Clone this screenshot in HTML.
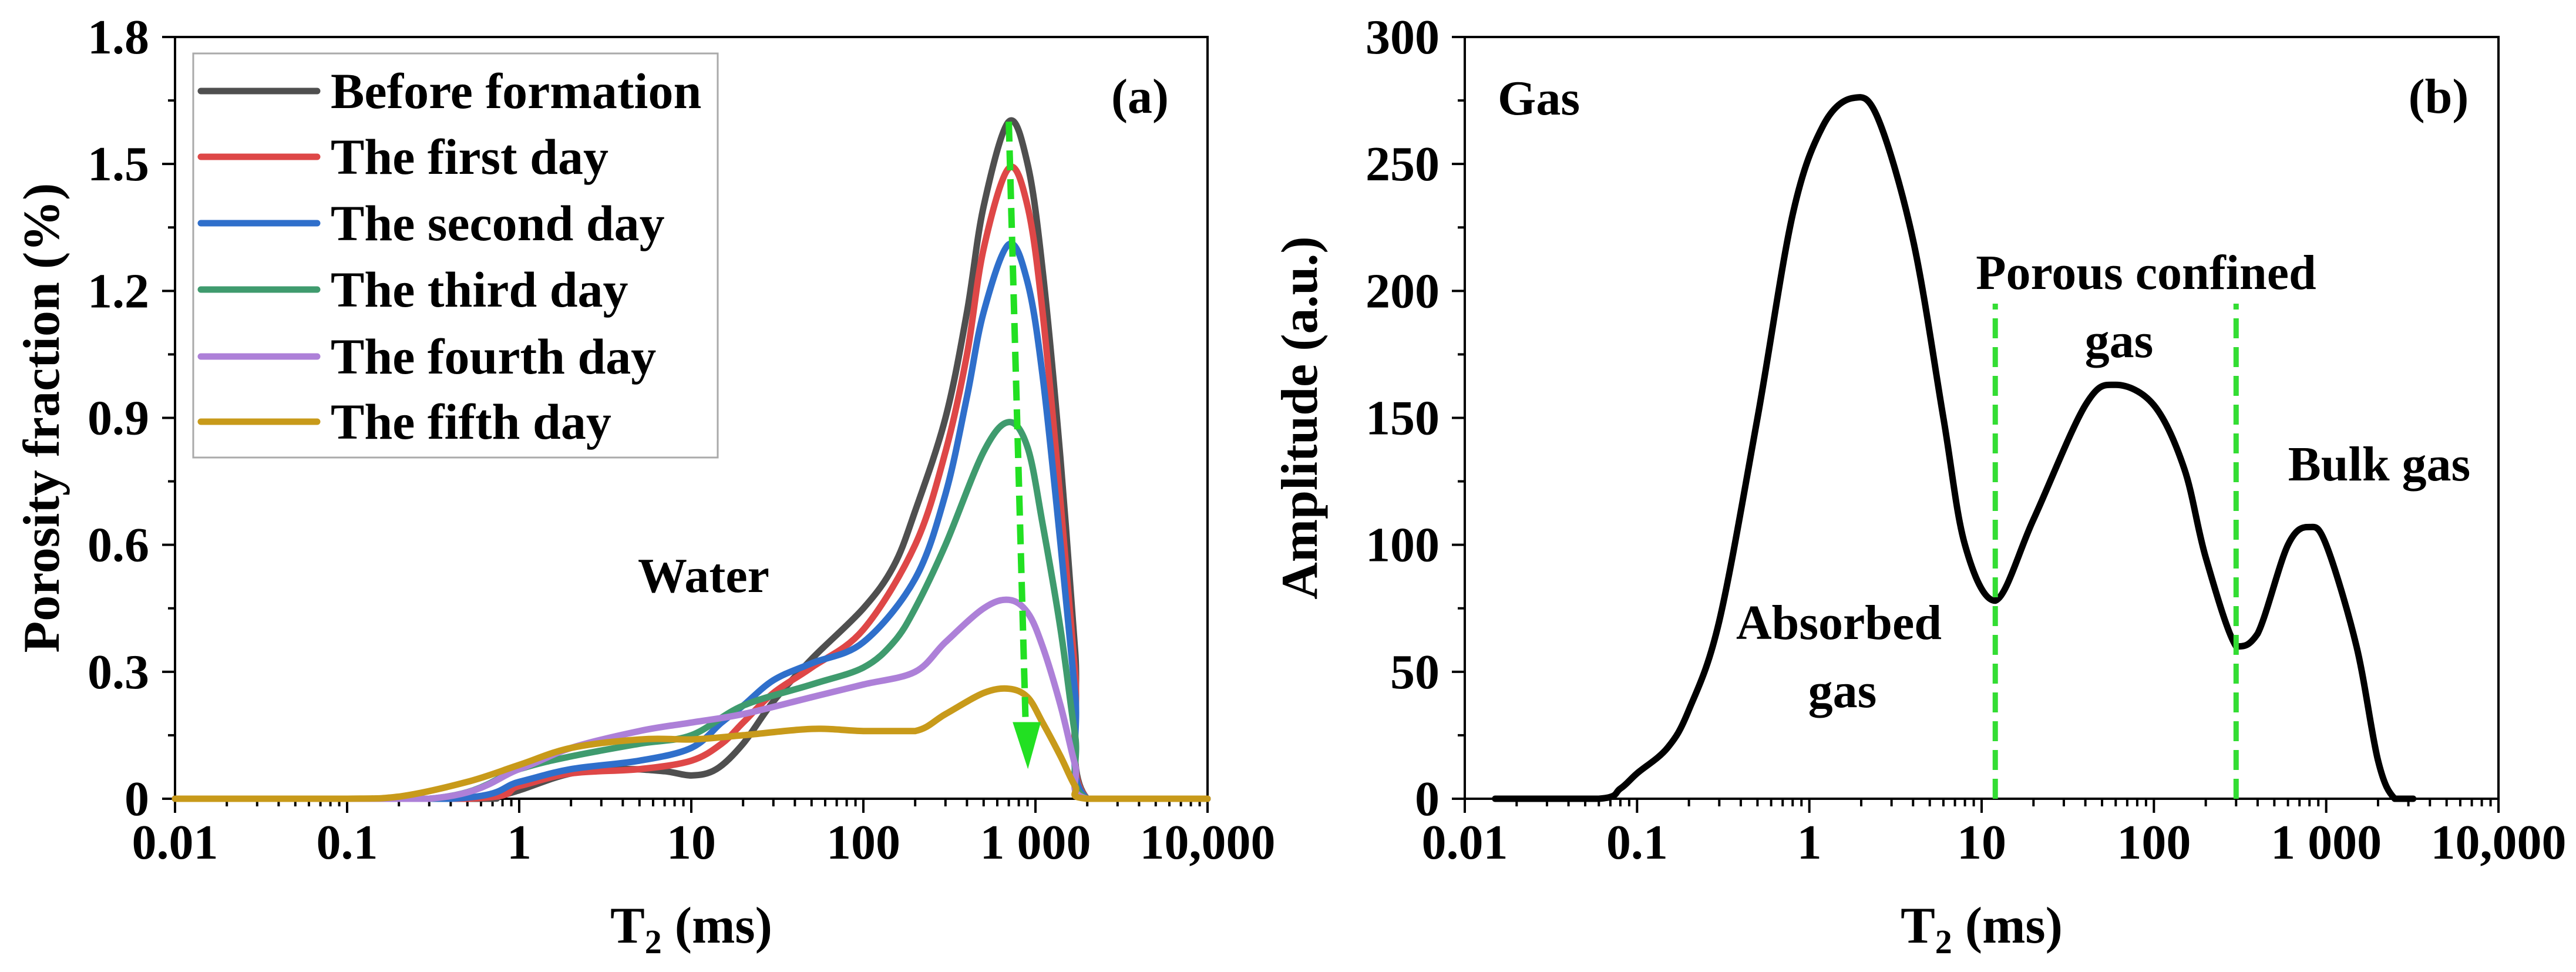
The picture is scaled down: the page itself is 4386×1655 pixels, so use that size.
<!DOCTYPE html>
<html><head><meta charset="utf-8"><style>
html,body{margin:0;padding:0;background:#fff;}
svg{display:block;}
text{font-family:"Liberation Serif","Times New Roman",serif;font-weight:bold;fill:#000;}
</style></head>
<body>
<svg id="svg" width="4386" height="1655" viewBox="0 0 4386 1655" xmlns="http://www.w3.org/2000/svg">
<g id="pa"></g>
<g id="pb"></g>
</svg>
<script>
// ---- Panel (a) data ----
const aSeriesNames = ["Before formation","The first day","The second day","The third day","The fourth day","The fifth day"];
const aColors = ["#4f4f4f","#de4747","#2f6fcb","#3f9b6e","#ad80d8","#c89a1a"];
const aBeforeX = [0.01,0.5,0.7,1,2,4,7,10,14,20,30,50,100,150,200,300,400,500,700,900,1100,1400,1700,2000,10000];
const aBeforeY = [0,0,0.003,0.02,0.06,0.07,0.065,0.055,0.07,0.13,0.23,0.33,0.45,0.55,0.68,0.9,1.15,1.4,1.6,1.5,1.25,0.8,0.35,0,0];
const aDay1X = [0.01,0.5,1,2,5,10,15,20,30,50,100,200,300,400,500,700,900,1100,1400,1700,2000,10000];
const aDay1Y = [0,0,0.03,0.06,0.07,0.09,0.13,0.18,0.25,0.31,0.4,0.6,0.82,1.05,1.3,1.49,1.4,1.15,0.7,0.3,0,0];
const aDay2X = [0.01,0.4,1,2,5,10,15,20,30,50,100,200,300,400,500,700,900,1100,1400,1700,2000,10000];
const aDay2Y = [0,0,0.04,0.07,0.09,0.12,0.18,0.22,0.28,0.32,0.37,0.52,0.72,0.95,1.15,1.31,1.22,1.0,0.6,0.25,0,0];
const aDay3X = [0.01,0.3,1,2,5,10,20,50,100,150,200,300,500,700,900,1100,1400,1700,2000,10000];
const aDay3Y = [0,0,0.07,0.1,0.13,0.15,0.22,0.27,0.31,0.37,0.45,0.6,0.82,0.89,0.83,0.65,0.4,0.15,0,0];
const aDay4X = [0.01,0.3,1,2,5,10,20,50,100,200,300,500,700,900,1100,1400,1700,2000,10000];
const aDay4Y = [0,0,0.07,0.12,0.16,0.18,0.2,0.24,0.27,0.3,0.37,0.45,0.47,0.44,0.36,0.22,0.08,0,0];
const aDay5X = [0.01,0.1,0.2,0.5,1,2,5,10,20,50,100,200,300,500,700,900,1100,1400,1700,2000,10000];
const aDay5Y = [0,0,0.005,0.04,0.08,0.12,0.14,0.14,0.15,0.165,0.16,0.16,0.2,0.25,0.26,0.24,0.18,0.1,0.03,0,0];
const aYTicks = [0,0.3,0.6,0.9,1.2,1.5,1.8];
const aYTickLabels = ["0","0.3","0.6","0.9","1.2","1.5","1.8"];
const xTicks = [0.01,0.1,1,10,100,1000,10000];
const xTickLabels = ["0.01","0.1","1","10","100","1 000","10,000"];
const aArrowX = [700,890];
const aArrowY = [1.6,0.07];

// ---- Panel (b) data ----
const bX = [0.015,0.06,0.08,0.1,0.15,0.2,0.3,0.5,0.8,1.2,1.8,2.5,4,6,8,12,20,40,60,100,150,200,300,400,600,800,1000,1500,2000,2500,3200];
const bY = [0,0,4,10,20,35,70,150,230,265,276,268,220,150,100,78,110,155,163,155,130,95,60,65,100,107,100,60,15,0,0];
const bYTicks = [0,50,100,150,200,250,300];
const bYTickLabels = ["0","50","100","150","200","250","300"];
const bDividerX = [12,300];
const bDividerTop = 195;

const NS="http://www.w3.org/2000/svg";
function el(parent,tag,attrs,text){const e=document.createElementNS(NS,tag);for(const k in attrs)e.setAttribute(k,attrs[k]);if(text!==undefined)e.textContent=text;parent.appendChild(e);return e;}

function smoothPath(pts){
  let d="M"+pts[0][0].toFixed(1)+","+pts[0][1].toFixed(1);
  for(let i=0;i<pts.length-1;i++){
    const p0=pts[Math.max(i-1,0)],p1=pts[i],p2=pts[i+1],p3=pts[Math.min(i+2,pts.length-1)];
    let c1x=p1[0]+(p2[0]-p0[0])/6,c1y=p1[1]+(p2[1]-p0[1])/6;
    let c2x=p2[0]-(p3[0]-p1[0])/6,c2y=p2[1]-(p3[1]-p1[1])/6;
    const lo=Math.max(p1[1],p2[1]);
    if(c1y>lo)c1y=lo; if(c2y>lo)c2y=lo;
    d+=" C"+c1x.toFixed(1)+","+c1y.toFixed(1)+" "+c2x.toFixed(1)+","+c2y.toFixed(1)+" "+p2[0].toFixed(1)+","+p2[1].toFixed(1);
  }
  return d;
}

function drawAxes(g,x0,x1,y0,y1,sx,sy,yTicks,yLabels,yMinor,labelRight,yTitle,yTitleX){
  const frame=el(g,"rect",{x:x0,y:y1,width:x1-x0,height:y0-y1,fill:"none",stroke:"#000","stroke-width":4});
  
  
  for(let dec=-2;dec<=4;dec++){
    for(let m=1;m<=9;m++){
      const v=m*Math.pow(10,dec); if(v>10000)break;
      const X=sx(v);const len=m===1?24:13;
      const t=el(g,"line",{x1:X,y1:y0,x2:X,y2:y0+len,stroke:"#000","stroke-width":4});
      
      
    }
  }
  xTicks.forEach((v,i)=>{
    const t=el(g,"text",{x:sx(v),y:1462,"font-size":84,"text-anchor":"middle"},xTickLabels[i]);
    
    
  });
  yTicks.forEach((v,i)=>{
    const Y=sy(v);
    const t=el(g,"line",{x1:x0-22,y1:Y,x2:x0,y2:Y,stroke:"#000","stroke-width":4});
    
    
    const l=el(g,"text",{x:labelRight,y:Y+28,"font-size":84,"text-anchor":"end"},yLabels[i]);
    
    
    if(i<yTicks.length-1){
      const m=sy((v+yTicks[i+1])/2);
      const mt=el(g,"line",{x1:x0-12,y1:m,x2:x0,y2:m,stroke:"#000","stroke-width":4});
      
      
    }
  });
  const xt=el(g,"text",{x:(x0+x1)/2,y:1605,"font-size":88,"text-anchor":"middle"});
  
  
  el(xt,"tspan",{},"T");
  el(xt,"tspan",{"font-size":58,dy:18},"2");
  el(xt,"tspan",{dy:-18}," (ms)");
  const yt=el(g,"text",{x:0,y:0,"font-size":88,"text-anchor":"middle",transform:"translate("+yTitleX+","+((y0+y1)/2)+") rotate(-90)"},yTitle);
  
  
}

// ---------- Panel A ----------
(function(){
  const g=document.getElementById("pa");
  const x0=298,x1=2056,y0=1360,y1=63;
  const sx=v=>x0+(Math.log10(v)+2)/6*(x1-x0);
  const sy=v=>y0-v/1.8*(y0-y1);
  drawAxes(g,x0,x1,y0,y1,sx,sy,aYTicks,aYTickLabels,true,254,"Porosity fraction (%)",100);
  const xs=[aBeforeX,aDay1X,aDay2X,aDay3X,aDay4X,aDay5X];
  const ys=[aBeforeY,aDay1Y,aDay2Y,aDay3Y,aDay4Y,aDay5Y];
  const names=['series-before-formation','series-first-day','series-second-day','series-third-day','series-fourth-day','series-fifth-day'];
  for(let s=0;s<6;s++){
    const pts=xs[s].map((v,i)=>[sx(v),sy(ys[s][i])]);
    const p=el(g,"path",{d:smoothPath(pts),fill:"none",stroke:aColors[s],"stroke-width":11,"stroke-linejoin":"round","stroke-linecap":"round"});
    
    
  }
  const ax0=sx(aArrowX[0]),ay0=sy(aArrowY[0]),ax1=sx(aArrowX[1]),ay1=sy(aArrowY[1]);
  const ar=el(g,"line",{x1:ax0,y1:ay0,x2:ax1-(ax1-ax0)*0.06,y2:ay1-75,stroke:"#22e022","stroke-width":11,"stroke-dasharray":"34 15"});
  
  
  const ah=el(g,"polygon",{points:(ax1-24)+","+(ay1-80)+" "+(ax1+24)+","+(ay1-80)+" "+(ax1+2)+","+ay1,fill:"#22e022"});
  
  
  const lg=el(g,"g",{});
  
  
  el(lg,"rect",{x:329,y:91,width:893,height:688,fill:"#fff",stroke:"#aaa","stroke-width":3});
  const ly=[155,267,380,493,607,718];
  for(let s=0;s<6;s++){
    const e=el(lg,"g",{});
    
    
    el(e,"line",{x1:342,y1:ly[s],x2:540,y2:ly[s],stroke:aColors[s],"stroke-width":11,"stroke-linecap":"round"});
    el(e,"text",{x:563,y:ly[s]+29,"font-size":86},aSeriesNames[s]);
  }
  const t1=el(g,"text",{x:1941,y:192,"font-size":84,"text-anchor":"middle"},"(a)");
  
  
  const t2=el(g,"text",{x:1198,y:1008,"font-size":84,"text-anchor":"middle"},"Water");
  
  
})();

// ---------- Panel B ----------
(function(){
  const g=document.getElementById("pb");
  const x0=2494,x1=4254,y0=1360,y1=63;
  const sx=v=>x0+(Math.log10(v)+2)/6*(x1-x0);
  const sy=v=>y0-v/300*(y0-y1);
  drawAxes(g,x0,x1,y0,y1,sx,sy,bYTicks,bYTickLabels,true,2451,"Amplitude (a.u.)",2242);
  const pts=bX.map((v,i)=>[sx(v),sy(bY[i])]);
  const p=el(g,"path",{d:smoothPath(pts),fill:"none",stroke:"#000","stroke-width":11,"stroke-linejoin":"round","stroke-linecap":"round"});
  
  
  bDividerX.forEach(v=>{
    const l=el(g,"line",{x1:sx(v),y1:sy(0),x2:sx(v),y2:sy(bDividerTop),stroke:"#33dd33","stroke-width":9,"stroke-dasharray":"34 15"});
    
    
  });
  const labels=[["Gas",2620,195,"gas-label"],["(b)",4152,192,"panel-label-b"],["Porous confined",3654,492,"porous-confined-label"],["gas",3608,608,"porous-confined-label-2"],["Bulk gas",4051,818,"bulk-gas-label"],["Absorbed",3131,1088,"absorbed-label"],["gas",3137,1204,"absorbed-label-2"]];
  labels.forEach(a=>{
    const t=el(g,"text",{x:a[1],y:a[2],"font-size":84,"text-anchor":"middle"},a[0]);
    
    
  });
})();
</script>
</body></html>
